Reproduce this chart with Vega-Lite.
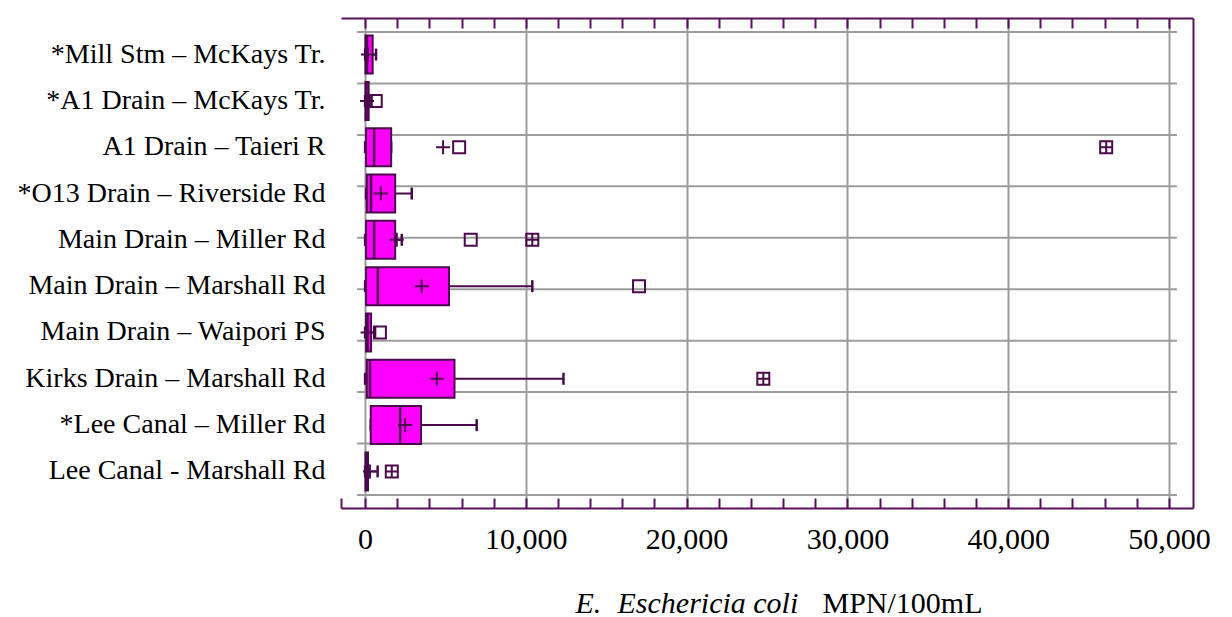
{
  "$schema": "https://vega.github.io/schema/vega-lite/v6.json",
  "width": 852,
  "height": 490,
  "autosize": "none",
  "padding": {"left": 341, "top": 18, "right": 39, "bottom": 109},
  "background": "white",
  "config": {"view": {"stroke": null}, "font": "Liberation Serif"},
  "datasets": {
    "stats": [
      {"site": "*Mill Stm – McKays  Tr.", "lo": 0, "q1": 20, "median": 120, "q3": 470, "hi": 680, "mean": 180},
      {"site": "*A1 Drain – McKays Tr.", "lo": 0, "q1": 20, "median": 80, "q3": 220, "hi": 400, "mean": 120},
      {"site": "A1 Drain – Taieri R", "lo": 0, "q1": 60, "median": 560, "q3": 1620, "hi": 1620, "mean": 4850},
      {"site": "*O13 Drain – Riverside Rd", "lo": 60, "q1": 100, "median": 370, "q3": 1870, "hi": 2900, "mean": 975},
      {"site": "Main Drain – Miller Rd", "lo": 0, "q1": 60, "median": 560, "q3": 1870, "hi": 2280, "mean": 1970},
      {"site": "Main Drain – Marshall Rd", "lo": 0, "q1": 60, "median": 790, "q3": 5220, "hi": 10400, "mean": 3520},
      {"site": "Main Drain – Waipori PS", "lo": 0, "q1": 60, "median": 150, "q3": 370, "hi": 620, "mean": 150},
      {"site": "Kirks Drain – Marshall Rd", "lo": 0, "q1": 100, "median": 310, "q3": 5560, "hi": 12340, "mean": 4460},
      {"site": "*Lee Canal – Miller Rd", "lo": 350, "q1": 350, "median": 2180, "q3": 3480, "hi": 6940, "mean": 2490},
      {"site": "Lee Canal - Marshall Rd", "lo": 0, "q1": 20, "median": 80, "q3": 180, "hi": 780, "mean": 300}
    ],
    "extremes": [
      {"site": "*A1 Drain – McKays Tr.", "value": 660, "kind": "outlier"},
      {"site": "A1 Drain – Taieri R", "value": 5850, "kind": "outlier"},
      {"site": "A1 Drain – Taieri R", "value": 46100, "kind": "far"},
      {"site": "Main Drain – Miller Rd", "value": 6570, "kind": "outlier"},
      {"site": "Main Drain – Miller Rd", "value": 10400, "kind": "far"},
      {"site": "Main Drain – Marshall Rd", "value": 17040, "kind": "outlier"},
      {"site": "Main Drain – Waipori PS", "value": 920, "kind": "outlier"},
      {"site": "Kirks Drain – Marshall Rd", "value": 24770, "kind": "far"},
      {"site": "Lee Canal - Marshall Rd", "value": 1660, "kind": "far"}
    ],
    "gridrows": [
      {"g": 0}, {"g": 1}, {"g": 2}, {"g": 3}, {"g": 4},
      {"g": 5}, {"g": 6}, {"g": 7}, {"g": 8}, {"g": 9}
    ]
  },
  "layer": [
    {
      "data": {"name": "gridrows"},
      "mark": {"type": "rule", "stroke": "#9c9c9c", "strokeWidth": 2},
      "encoding": {
        "y": {
          "field": "g",
          "type": "quantitative",
          "scale": {"domain": [-0.272, 9.253], "reverse": true, "nice": false, "zero": false},
          "axis": {
            "orient": "right",
            "domain": true, "domainColor": "#5a0f5a", "domainWidth": 2,
            "ticks": false, "labels": false, "grid": false,
            "title": "E.",
            "titleAngle": 0,
            "titleFont": "Liberation Serif", "titleFontSize": 30, "titleFontStyle": "italic",
            "titleFontWeight": "normal", "titleColor": "#000000",
            "titleAlign": "left", "titleBaseline": "alphabetic",
            "titleX": -618, "titleY": 594
          }
        },
        "x": {
          "datum": -500,
          "type": "quantitative",
          "scale": {"domain": [-1500, 51500], "nice": false, "zero": false},
          "axis": {
            "orient": "top",
            "values": [0, 2000, 4000, 6000, 8000, 10000, 12000, 14000, 16000, 18000, 20000, 22000, 24000, 26000, 28000, 30000, 32000, 34000, 36000, 38000, 40000, 42000, 44000, 46000, 48000, 50000],
            "labels": false, "grid": false,
            "domainColor": "#5a0f5a", "domainWidth": 2,
            "ticks": true, "tickColor": "#5a0f5a", "tickWidth": 2, "tickSize": -10,
            "encode": {"ticks": {"update": {"y2": {"signal": "datum.value % 10000 === 0 ? 10 : 5"}}}},
            "title": "MPN/100mL",
            "titleFont": "Liberation Serif", "titleFontSize": 30, "titleFontStyle": "normal",
            "titleFontWeight": "normal", "titleColor": "#000000",
            "titleAlign": "left", "titleBaseline": "alphabetic",
            "titleX": 481, "titleY": 594
          }
        },
        "x2": {"datum": 50500}
      }
    },
    {
      "data": {"name": "stats"},
      "encoding": {
        "y": {
          "field": "site",
          "type": "nominal",
          "scale": {
            "domain": ["*Mill Stm – McKays  Tr.", "*A1 Drain – McKays Tr.", "A1 Drain – Taieri R", "*O13 Drain – Riverside Rd", "Main Drain – Miller Rd", "Main Drain – Marshall Rd", "Main Drain – Waipori PS", "Kirks Drain – Marshall Rd", "*Lee Canal – Miller Rd", "Lee Canal - Marshall Rd"],
            "paddingInner": 0,
            "paddingOuter": 0.29
          },
          "axis": {
            "orient": "left", "title": null,
            "domain": false, "ticks": false, "grid": false,
            "labelFont": "Liberation Serif", "labelFontSize": 28, "labelColor": "#000000",
            "labelPadding": 16, "labelLimit": 0
          }
        },
        "x": {
          "field": "lo",
          "type": "quantitative",
          "axis": {
            "orient": "bottom",
            "values": [-1500, 0, 2000, 4000, 6000, 8000, 10000, 12000, 14000, 16000, 18000, 20000, 22000, 24000, 26000, 28000, 30000, 32000, 34000, 36000, 38000, 40000, 42000, 44000, 46000, 48000, 50000],
            "labelExpr": "datum.value % 10000 === 0 ? format(datum.value, ',') : ''",
            "labelFont": "Liberation Serif", "labelFontSize": 30, "labelColor": "#000000",
            "labelPadding": 26, "labelFlush": false, "labelOverlap": false, "labelBound": false,
            "domainColor": "#5a0f5a", "domainWidth": 2,
            "ticks": true, "tickColor": "#5a0f5a", "tickWidth": 2, "tickSize": -10,
            "encode": {
              "ticks": {"update": {"y2": {"signal": "datum.value % 10000 === 0 ? -10 : -6"}}}
            },
            "grid": true, "gridColor": "#9c9c9c", "gridWidth": 2,
            "gridOpacity": {"condition": {"test": "datum.value % 10000 === 0", "value": 1}, "value": 0},
            "title": "Eschericia coli",
            "titleFont": "Liberation Serif", "titleFontSize": 30, "titleFontStyle": "italic",
            "titleFontWeight": "normal", "titleColor": "#000000",
            "titleAlign": "left", "titleBaseline": "alphabetic",
            "titleX": 276, "titleY": 104
          }
        }
      },
      "layer": [
        {
          "mark": {"type": "rule", "stroke": "#4b0a4b", "strokeWidth": 2},
          "encoding": {"x2": {"field": "q1"}}
        },
        {
          "mark": {"type": "rule", "stroke": "#4b0a4b", "strokeWidth": 2},
          "encoding": {
            "x": {"field": "q3", "type": "quantitative"},
            "x2": {"field": "hi"}
          }
        },
        {
          "mark": {"type": "tick", "color": "#4b0a4b", "size": 12, "thickness": 2.5, "opacity": 1}
        },
        {
          "mark": {"type": "tick", "color": "#4b0a4b", "size": 12, "thickness": 2.5, "opacity": 1},
          "encoding": {"x": {"field": "hi", "type": "quantitative"}}
        },
        {
          "mark": {"type": "bar", "fill": "#ff00ff", "stroke": "#4b0a4b", "strokeWidth": 2, "height": {"band": 0.82}},
          "encoding": {
            "x": {"field": "q1", "type": "quantitative"},
            "x2": {"field": "q3"}
          }
        },
        {
          "mark": {"type": "tick", "color": "#4b0a4b", "size": 38, "thickness": 2.5, "opacity": 1},
          "encoding": {"x": {"field": "median", "type": "quantitative"}}
        },
        {
          "mark": {"type": "point", "shape": "M-1,0H1M0,-1V1", "size": 196, "filled": false, "stroke": "#4b0a4b", "strokeWidth": 2, "opacity": 1},
          "encoding": {"x": {"field": "mean", "type": "quantitative"}}
        },
        {
          "data": {"name": "extremes"},
          "transform": [{"filter": "datum.kind === 'outlier'"}],
          "mark": {"type": "point", "shape": "square", "size": 144, "filled": false, "stroke": "#4b0a4b", "strokeWidth": 2, "opacity": 1},
          "encoding": {"x": {"field": "value", "type": "quantitative"}}
        },
        {
          "data": {"name": "extremes"},
          "transform": [{"filter": "datum.kind === 'far'"}],
          "mark": {"type": "point", "shape": "M-1,-1H1V1H-1ZM-1,0H1M0,-1V1.15", "size": 144, "filled": false, "stroke": "#4b0a4b", "strokeWidth": 2, "opacity": 1},
          "encoding": {"x": {"field": "value", "type": "quantitative"}}
        }
      ]
    }
  ],
  "resolve": {
    "scale": {"y": "independent"},
    "axis": {"x": "independent", "y": "independent"}
  }
}
